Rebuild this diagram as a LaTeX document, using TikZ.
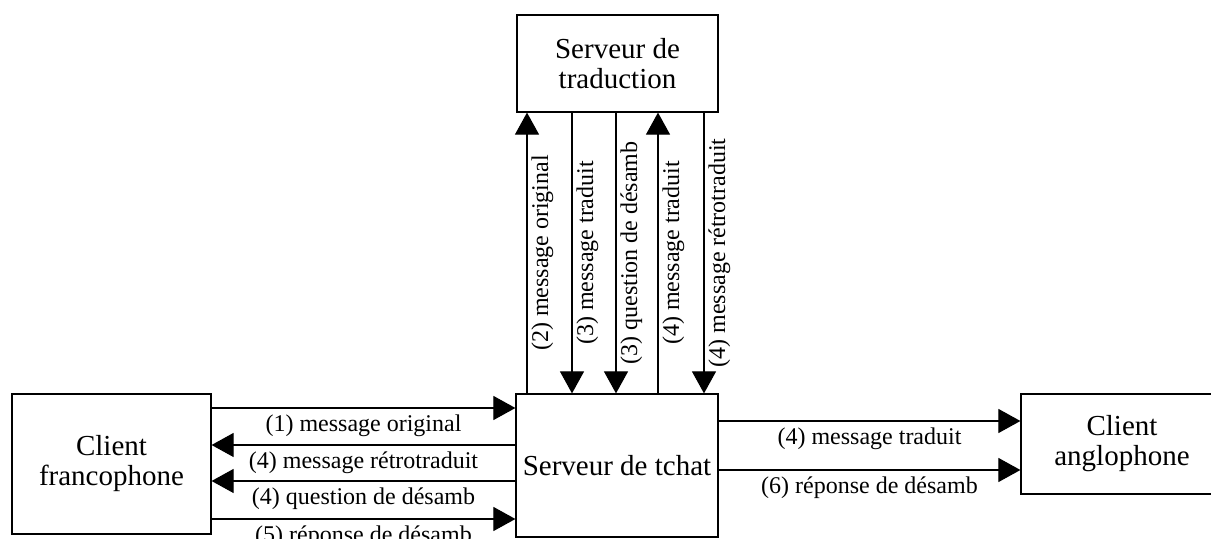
\documentclass[tikz,border=0pt]{standalone}
\usepackage{fontspec}
\setmainfont{Liberation Serif}
\usetikzlibrary{arrows.meta}
\begin{document}
\begin{tikzpicture}[x=0.5pt,y=-0.5pt,
  box/.style={draw=black,line width=0.6pt,align=center,font=\fontsize{14.5}{15}\selectfont,inner sep=0pt},
  arr/.style={line width=0.55pt,-{Triangle[length=11pt,width=12pt]}},
  lab/.style={font=\fontsize{12}{14}\selectfont,anchor=base,inner sep=0pt},
  vlab/.style={lab,rotate=90}]
\useasboundingbox (0,0) rectangle (1211,539);
\clip (0,0) rectangle (1211,539);
% boxes
\node[box,minimum width=100.5pt,minimum height=48.5pt] (trad) at (617.5,63.5) {Serveur de\\traduction};
\node[box,minimum width=101pt,minimum height=71.5pt] (chat) at (617,465.5) {Serveur de tchat};
\node[box,minimum width=99.5pt,minimum height=70pt] (cf) at (111.5,464) {Client\\francophone};
\node[box,minimum width=101pt,minimum height=50pt] (ca) at (1122,444) {Client\\anglophone};
% vertical arrows
\draw[arr] (chat.north -| 527,0) -- (trad.south -| 527,0);
\draw[arr] (trad.south -| 572,0) -- (chat.north -| 572,0);
\draw[arr] (trad.south -| 616,0) -- (chat.north -| 616,0);
\draw[arr] (chat.north -| 658,0) -- (trad.south -| 658,0);
\draw[arr] (trad.south -| 704,0) -- (chat.north -| 704,0);
\node[vlab] (v1) at (548,253) {(2) message original};
\node[vlab] (v2) at (593,253) {(3) message traduit};
\node[vlab] (v3) at (637,253) {(3) question de désamb};
\node[vlab] (v4) at (679,253) {(4) message traduit};
\node[vlab] (v5) at (725,253) {(4) message rétrotraduit};
% left horizontal arrows
\draw[arr] (cf.east |- 0,408) -- (chat.west |- 0,408);
\draw[arr] (chat.west |- 0,445) -- (cf.east |- 0,445);
\draw[arr] (chat.west |- 0,481) -- (cf.east |- 0,481);
\draw[arr] (cf.east |- 0,519) -- (chat.west |- 0,519);
\node[lab] (h1) at (363.5,432) {(1) message original};
\node[lab] (h2) at (363.5,469) {(4) message rétrotraduit};
\node[lab] (h3) at (363.5,505) {(4) question de désamb};
\node[lab] (h4) at (363.5,543) {(5) réponse de désamb};
% right horizontal arrows
\draw[arr] (chat.east |- 0,421) -- (ca.west |- 0,421);
\draw[arr] (chat.east |- 0,470) -- (ca.west |- 0,470);
\node[lab] (h5) at (869.5,445) {(4) message traduit};
\node[lab] (h6) at (869.5,494) {(6) réponse de désamb};
\end{tikzpicture}
\end{document}
